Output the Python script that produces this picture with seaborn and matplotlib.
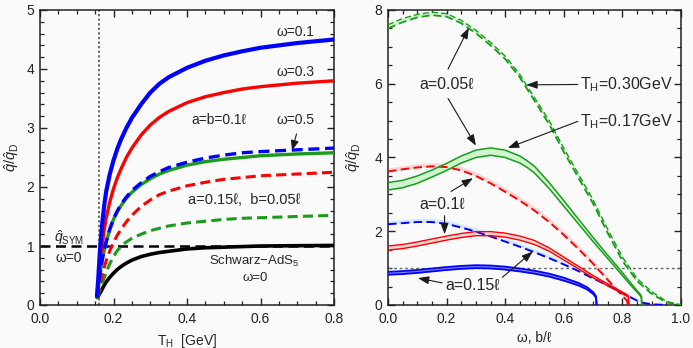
import numpy as np
import pandas as pd
import matplotlib
matplotlib.use("Agg")
import matplotlib.pyplot as plt
import seaborn as sns
from matplotlib.ticker import MultipleLocator

# ---------------- Left panel data (q/qD vs T_H) ----------------
T_H = [0.155, 0.158, 0.16, 0.163, 0.166, 0.17, 0.175, 0.18, 0.19, 0.2, 0.21, 0.22, 0.235,
       0.25, 0.275, 0.3, 0.325, 0.35, 0.4, 0.45, 0.5, 0.55, 0.6, 0.7, 0.8]
# a=b=0.1l
q_w01_ab = [0.15, 0.4, 0.6, 0.9, 1.15, 1.42, 1.7, 1.92, 2.22, 2.45, 2.64, 2.8, 3.0,
            3.17, 3.4, 3.6, 3.75, 3.86, 4.02, 4.14, 4.23, 4.3, 4.36, 4.44, 4.5]
q_w03_ab = [0.15, 0.32, 0.45, 0.65, 0.85, 1.05, 1.28, 1.47, 1.75, 1.97, 2.15, 2.3, 2.5,
            2.66, 2.88, 3.05, 3.18, 3.28, 3.43, 3.53, 3.6, 3.66, 3.7, 3.76, 3.8]
q_w05_ab = [0.12, 0.25, 0.35, 0.5, 0.63, 0.78, 0.93, 1.06, 1.28, 1.45, 1.58, 1.68, 1.81,
            1.91, 2.04, 2.14, 2.22, 2.28, 2.37, 2.43, 2.47, 2.5, 2.53, 2.56, 2.58]
# a=0.15l, b=0.05l
q_w01_ab2 = [0.12, 0.25, 0.36, 0.5, 0.64, 0.79, 0.94, 1.07, 1.29, 1.46, 1.59, 1.7, 1.83,
             1.94, 2.07, 2.18, 2.26, 2.33, 2.42, 2.49, 2.54, 2.58, 2.6, 2.63, 2.66]
q_w03_ab2 = [0.12, 0.18, 0.24, 0.33, 0.42, 0.52, 0.64, 0.75, 0.92, 1.06, 1.18, 1.28, 1.41,
             1.52, 1.67, 1.78, 1.87, 1.93, 2.02, 2.08, 2.13, 2.16, 2.19, 2.22, 2.25]
q_w05_ab2 = [0.12, 0.16, 0.2, 0.26, 0.31, 0.38, 0.46, 0.55, 0.7, 0.82, 0.92, 0.99, 1.07,
             1.13, 1.2, 1.26, 1.3, 1.34, 1.39, 1.42, 1.45, 1.47, 1.48, 1.5, 1.52]
# Schwarz-AdS5, omega=0
T_ads = [0.158, 0.16, 0.163, 0.166, 0.17, 0.175, 0.18, 0.19, 0.2, 0.21, 0.22, 0.235,
         0.25, 0.275, 0.3, 0.325, 0.35, 0.4, 0.45, 0.5, 0.55, 0.6, 0.7, 0.8]
q_ads = [0.14, 0.17, 0.2, 0.23, 0.28, 0.34, 0.39, 0.47, 0.54, 0.6, 0.65, 0.71,
         0.76, 0.82, 0.86, 0.89, 0.91, 0.95, 0.97, 0.98, 0.99, 1.0, 1.005, 1.01]
q_sym = 1.0
T_c = 0.16

# ---------------- Right panel data (q/qD vs omega, b/l) ----------------
w_g30 = [0, .05, .1, .15, .2, .25, .3, .35, .4, .45, .5, .55, .6, .65, .7, .75, .8, .85, .9, .95, 1.0]
g30_lo = [7.5, 7.67, 7.8, 7.86, 7.82, 7.64, 7.37, 7.04, 6.67, 6.17, 5.54, 4.9, 4.15, 3.45, 2.75, 1.95, 1.2, 0.65, 0.3, 0.07, 0.0]
g30_hi = [7.6, 7.77, 7.88, 7.94, 7.9, 7.72, 7.45, 7.12, 6.75, 6.25, 5.62, 5.0, 4.25, 3.55, 2.85, 2.05, 1.3, 0.72, 0.36, 0.1, 0.0]

w_g17 = [0, .05, .1, .15, .2, .25, .3, .35, .4, .45, .475, .5, .55, .6, .65, .7, .75, .8, .83, .86, .865, .866]
g17_lo = [3.12, 3.18, 3.3, 3.47, 3.65, 3.85, 4.0, 4.06, 4.0, 3.85, 3.73, 3.58, 3.16, 2.68, 2.2, 1.72, 1.26, 0.8, 0.52, 0.26, 0.2, 0.0]
g17_hi = [3.32, 3.38, 3.5, 3.66, 3.84, 4.04, 4.2, 4.26, 4.2, 4.04, 3.91, 3.76, 3.32, 2.83, 2.33, 1.83, 1.35, 0.88, 0.58, 0.3, 0.24, 0.0]

w_r30 = [0, .05, .1, .15, .2, .25, .3, .35, .4, .45, .5, .55, .6, .65, .7, .75, .8, .815, .82]
r30_lo = [3.62, 3.68, 3.73, 3.76, 3.74, 3.65, 3.5, 3.3, 3.07, 2.83, 2.56, 2.25, 1.9, 1.52, 1.12, 0.68, 0.25, 0.12, 0.0]
r30_hi = [3.72, 3.78, 3.83, 3.86, 3.84, 3.76, 3.61, 3.41, 3.18, 2.94, 2.67, 2.36, 2.0, 1.62, 1.21, 0.76, 0.31, 0.16, 0.0]

w_r17 = [0, .05, .1, .15, .2, .25, .3, .35, .4, .45, .5, .55, .6, .65, .7, .75, .8, .82, .822]
r17_lo = [1.49, 1.53, 1.6, 1.68, 1.76, 1.83, 1.88, 1.88, 1.84, 1.76, 1.64, 1.46, 1.22, 0.98, 0.74, 0.52, 0.31, 0.22, 0.0]
r17_hi = [1.6, 1.64, 1.71, 1.79, 1.87, 1.94, 1.99, 1.99, 1.95, 1.87, 1.75, 1.55, 1.3, 1.05, 0.8, 0.57, 0.35, 0.26, 0.0]

w_b30 = [0, .05, .1, .15, .2, .25, .3, .35, .4, .45, .5, .55, .6, .65, .7, .75, .8, .85, .87, .9, .95]
b30_lo = [2.19, 2.22, 2.25, 2.25, 2.2, 2.1, 1.99, 1.86, 1.72, 1.58, 1.43, 1.27, 1.1, 0.92, 0.72, 0.53, 0.32, 0.12, 0.06, 0.02, 0.0]
b30_hi = [2.29, 2.32, 2.35, 2.35, 2.3, 2.2, 2.09, 1.96, 1.82, 1.68, 1.53, 1.37, 1.19, 1.0, 0.8, 0.6, 0.38, 0.16, 0.09, 0.04, 0.0]

w_b17 = [0, .05, .1, .15, .2, .25, .3, .35, .4, .45, .5, .55, .6, .65, .68, .7, .71, .712]
b17_lo = [0.82, 0.84, 0.87, 0.91, 0.95, 0.98, 1.0, 0.99, 0.96, 0.91, 0.85, 0.77, 0.66, 0.53, 0.42, 0.3, 0.2, 0.0]
b17_hi = [0.9, 0.92, 0.95, 0.99, 1.03, 1.06, 1.08, 1.07, 1.04, 0.99, 0.93, 0.85, 0.74, 0.6, 0.48, 0.35, 0.24, 0.0]

# ---------------- Style ----------------
sns.set_theme(style="ticks")
plt.rcParams["font.family"] = ["Liberation Sans", "DejaVu Sans"]
plt.rcParams["mathtext.fontset"] = "custom"
plt.rcParams["mathtext.rm"] = "Liberation Sans"
plt.rcParams["mathtext.it"] = "Liberation Sans:italic"
plt.rcParams["mathtext.bf"] = "Liberation Sans:bold"

BG = "#fafafa"
BLUE, RED, GREEN, BLACK = "#0000ff", "#ff0000", "#1a9c1a", "#000000"
LGREEN, LPINK, LBLUE, MBLUE = "#cff5cf", "#ffd4d4", "#d4e8ff", "#7f7fff"

fig = plt.figure(figsize=(6.93, 3.48), dpi=100, facecolor=BG)
axL = fig.add_axes([40 / 693, 43 / 348, 294 / 693, 295 / 348], facecolor=BG)
axR = fig.add_axes([388 / 693, 43 / 348, 293 / 693, 295 / 348], facecolor=BG)


def style_axes(ax):
    for s in ax.spines.values():
        s.set_linewidth(1.1)
        s.set_color("#222222")
    ax.tick_params(which="both", direction="in", top=True, right=True,
                   labelsize=10, colors="#222222")
    ax.tick_params(axis="x", which="both", pad=5)
    ax.tick_params(axis="y", which="both", pad=4)
    ax.tick_params(which="major", length=5, width=1.0)
    ax.tick_params(which="minor", length=3, width=0.9)


def line(ax, x, y, color, lw, ls="-", z=3):
    sns.lineplot(x=x, y=y, ax=ax, color=color, lw=lw, linestyle=ls,
                 estimator=None, sort=False, zorder=z)


# ---------------- Left panel ----------------
dashL = (0, (3.3, 1.7))
axL.axvline(T_c, color="#444444", lw=1.1, ls=(0, (1.5, 1.5)), zorder=1)
axL.axhline(q_sym, color=BLACK, lw=1.8, ls=(0, (4.0, 2.2)), zorder=2)
line(axL, T_ads, q_ads, BLACK, 2.6)
line(axL, T_H, q_w05_ab2, GREEN, 2.2, dashL)
line(axL, T_H, q_w03_ab2, RED, 2.2, dashL)
line(axL, T_H, q_w05_ab, GREEN, 2.4)
line(axL, T_H, q_w01_ab2, BLUE, 2.4, dashL, z=4)
line(axL, T_H, q_w03_ab, RED, 2.4)
line(axL, T_H, q_w01_ab, BLUE, 3.0)

axL.set_xlim(0, 0.8)
axL.set_ylim(0, 5)
axL.set_xticks([0, 0.2, 0.4, 0.6, 0.8], ["0.0", "0.2", "0.4", "0.6", "0.8"])
axL.xaxis.set_minor_locator(MultipleLocator(0.05))
axL.yaxis.set_major_locator(MultipleLocator(1))
axL.yaxis.set_minor_locator(MultipleLocator(0.2))
style_axes(axL)
axL.set_xlabel(r"T$_{\rm H}$  [GeV]", fontsize=10, labelpad=4)
axL.set_ylabel(r"$\hat{q}/\hat{q}_{\rm D}$", fontsize=10.5, labelpad=4)

fsL = 10
axL.text(0.695, 4.63, "ω=0.1", fontsize=fsL, ha="center", va="center")
axL.text(0.695, 3.95, "ω=0.3", fontsize=fsL, ha="center", va="center")
axL.text(0.486, 3.13, "a=b=0.1ℓ", fontsize=fsL, ha="center", va="center")
axL.text(0.695, 3.13, "ω=0.5", fontsize=fsL, ha="center", va="center")
axL.annotate("", xy=(0.686, 2.62), xytext=(0.698, 2.9),
             arrowprops=dict(arrowstyle="-|>,head_length=0.5,head_width=0.2",
                             color="k", lw=0.8, shrinkA=0, shrinkB=0))
axL.text(0.555, 1.78, "a=0.15ℓ,  b=0.05ℓ", fontsize=10.5, ha="center", va="center")
axL.text(0.078, 1.14, r"$\hat{q}_{\rm SYM}$", fontsize=fsL, ha="center", va="center")
axL.text(0.078, 0.8, "ω=0", fontsize=fsL, ha="center", va="center")
axL.text(0.583, 0.73, r"Schwarz$-$AdS$_5$", fontsize=9.5, ha="center", va="center")
axL.text(0.585, 0.45, "ω=0", fontsize=9.5, ha="center", va="center")

# ---------------- Right panel ----------------
dashR = (0, (4.4, 2.2))
axR.axhline(1.0, color="#666666", lw=1.0, ls=(0, (2.0, 2.0)), zorder=1)

# T_H = 0.30 GeV (dashed, bands)
axR.fill_between(w_g30, g30_lo, g30_hi, color=LGREEN, lw=0, zorder=2)
axR.fill_between(w_r30, r30_lo, r30_hi, color=LPINK, lw=0, zorder=2)
axR.fill_between(w_b30, b30_lo, b30_hi, color=LBLUE, lw=0, zorder=2)
# T_H = 0.17 GeV (solid, bands)
axR.fill_between(w_g17, g17_lo, g17_hi, color=LGREEN, lw=0, zorder=2)
axR.fill_between(w_r17, r17_lo, r17_hi, color=LPINK, lw=0, zorder=2)
axR.fill_between(w_b17, b17_lo, b17_hi, color=MBLUE, lw=0, zorder=2)

line(axR, w_g30, g30_lo, GREEN, 1.3, dashR)
line(axR, w_g30, g30_hi, GREEN, 1.0, dashR)
line(axR, w_r30, r30_lo, RED, 1.4, dashR)
line(axR, w_b30, b30_lo, BLUE, 1.4, dashR)
line(axR, w_g17, g17_lo, GREEN, 1.1)
line(axR, w_g17, g17_hi, GREEN, 1.1)
line(axR, w_r17, r17_lo, RED, 1.0)
line(axR, w_r17, r17_hi, RED, 1.0)
line(axR, w_b17, b17_lo, BLUE, 1.3)
line(axR, w_b17, b17_hi, BLUE, 1.3)

axR.set_xlim(0, 1.0)
axR.set_ylim(0, 8)
axR.set_xticks([0, 0.2, 0.4, 0.6, 0.8, 1.0], ["0.0", "0.2", "0.4", "0.6", "0.8", "1.0"])
axR.xaxis.set_minor_locator(MultipleLocator(0.05))
axR.yaxis.set_major_locator(MultipleLocator(2))
axR.yaxis.set_minor_locator(MultipleLocator(0.5))
style_axes(axR)
axR.set_xlabel("ω, b/ℓ", fontsize=10, labelpad=4)
axR.set_ylabel(r"$\hat{q}/\hat{q}_{\rm D}$", fontsize=10.5, labelpad=8)

fsR = 11.5
aprops = dict(arrowstyle="-|>,head_length=0.55,head_width=0.2",
              color="k", lw=0.8, shrinkA=0, shrinkB=0)
axR.text(0.2, 5.98, "a=0.05ℓ", fontsize=fsR, ha="center", va="center")
axR.annotate("", xy=(0.276, 7.52), xytext=(0.205, 6.4), arrowprops=aprops)
axR.annotate("", xy=(0.3, 4.32), xytext=(0.205, 5.6), arrowprops=aprops)
axR.text(0.655, 5.98, r"T$_{\rm H}$=0.30GeV", fontsize=fsR, ha="left", va="center")
axR.annotate("", xy=(0.472, 5.97), xytext=(0.648, 5.98), arrowprops=aprops)
axR.text(0.655, 4.98, r"T$_{\rm H}$=0.17GeV", fontsize=fsR, ha="left", va="center")
axR.annotate("", xy=(0.409, 4.26), xytext=(0.648, 4.98), arrowprops=aprops)
axR.text(0.185, 2.72, "a=0.1ℓ", fontsize=fsR, ha="center", va="center")
axR.annotate("", xy=(0.29, 3.44), xytext=(0.215, 3.08), arrowprops=aprops)
axR.annotate("", xy=(0.193, 1.92), xytext=(0.193, 2.42), arrowprops=aprops)
axR.text(0.29, 0.52, "a=0.15ℓ", fontsize=fsR, ha="center", va="center")
axR.annotate("", xy=(0.102, 0.73), xytext=(0.185, 0.6), arrowprops=aprops)
axR.annotate("", xy=(0.494, 1.45), xytext=(0.39, 0.75), arrowprops=aprops)

fig.savefig("out.png", dpi=100, facecolor=BG)
